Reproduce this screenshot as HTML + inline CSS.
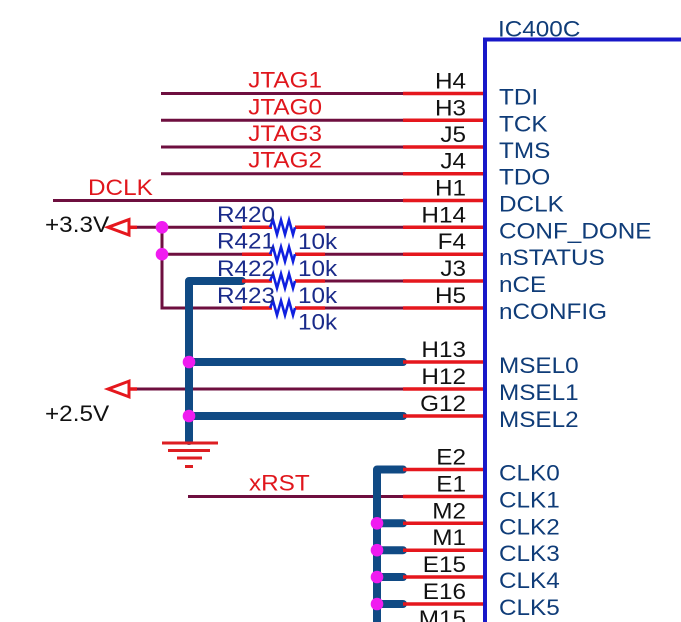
<!DOCTYPE html>
<html><head><meta charset="utf-8"><style>
html,body{margin:0;padding:0;background:#fff}
svg{display:block}
text{font-family:"Liberation Sans",Arial,sans-serif;font-size:22.5px}
.pn{fill:#0f3c78}
.num{fill:#111}
.red{fill:#e0161c}
.rl{fill:#1a2b8a}
</style></head><body>
<svg width="681" height="622" viewBox="0 0 681 622" xmlns="http://www.w3.org/2000/svg">
<!-- maroon wires -->
<g stroke="#6e0f3f" stroke-width="3" fill="none">
<line x1="161" y1="93.5" x2="403" y2="93.5"/>
<line x1="161" y1="120.3" x2="403" y2="120.3"/>
<line x1="161" y1="147" x2="403" y2="147"/>
<line x1="161" y1="173.7" x2="403" y2="173.7"/>
<line x1="53" y1="200.5" x2="403" y2="200.5"/>
<line x1="137" y1="227.3" x2="242" y2="227.3"/>
<line x1="325" y1="227.3" x2="403" y2="227.3"/>
<line x1="162" y1="254.2" x2="242" y2="254.2"/>
<line x1="325" y1="254.2" x2="403" y2="254.2"/>
<line x1="325" y1="281" x2="403" y2="281"/>
<path d="M162,227.3 V308 H242"/>
<line x1="325" y1="308" x2="403" y2="308"/>
<line x1="137" y1="389" x2="403" y2="389"/>
<line x1="188" y1="496.5" x2="403" y2="496.5"/>
</g>
<!-- navy buses -->
<g stroke="#104a84" stroke-width="8" fill="none" stroke-linecap="round" stroke-linejoin="round">
<path d="M189,441 V281 H242"/>
<line x1="189" y1="362" x2="403" y2="362"/>
<line x1="189" y1="416" x2="403" y2="416"/>
<path d="M377,640 V469.5 H403"/>
<line x1="377" y1="523.3" x2="403" y2="523.3"/>
<line x1="377" y1="550.2" x2="403" y2="550.2"/>
<line x1="377" y1="577" x2="403" y2="577"/>
<line x1="377" y1="604" x2="403" y2="604"/>
</g>
<!-- red pin lines -->
<g stroke="#e5171d" stroke-width="3.5" fill="none">
<line x1="403" y1="93.5" x2="485" y2="93.5"/>
<line x1="403" y1="120.3" x2="485" y2="120.3"/>
<line x1="403" y1="147" x2="485" y2="147"/>
<line x1="403" y1="173.7" x2="485" y2="173.7"/>
<line x1="403" y1="200.5" x2="485" y2="200.5"/>
<line x1="403" y1="227.3" x2="485" y2="227.3"/>
<line x1="403" y1="254.2" x2="485" y2="254.2"/>
<line x1="403" y1="281" x2="485" y2="281"/>
<line x1="403" y1="308" x2="485" y2="308"/>
<line x1="403" y1="362" x2="485" y2="362"/>
<line x1="403" y1="389" x2="485" y2="389"/>
<line x1="403" y1="416" x2="485" y2="416"/>
<line x1="403" y1="469.5" x2="485" y2="469.5"/>
<line x1="403" y1="496.5" x2="485" y2="496.5"/>
<line x1="403" y1="523.3" x2="485" y2="523.3"/>
<line x1="403" y1="550.2" x2="485" y2="550.2"/>
<line x1="403" y1="577" x2="485" y2="577"/>
<line x1="403" y1="604" x2="485" y2="604"/>
<!-- resistor leads -->
<line x1="242" y1="227.3" x2="272" y2="227.3"/><line x1="295" y1="227.3" x2="325" y2="227.3"/>
<line x1="242" y1="254.2" x2="272" y2="254.2"/><line x1="295" y1="254.2" x2="325" y2="254.2"/>
<line x1="242" y1="281" x2="272" y2="281"/><line x1="295" y1="281" x2="325" y2="281"/>
<line x1="242" y1="308" x2="272" y2="308"/><line x1="295" y1="308" x2="325" y2="308"/>
<!-- power arrows -->
<line x1="129" y1="227.3" x2="137" y2="227.3"/>
<line x1="129" y1="389" x2="137" y2="389"/>
</g>
<g stroke="#e5171d" stroke-width="3" fill="none" stroke-linejoin="miter">
<polygon points="108,227.3 129,219.5 129,235"/>
<polygon points="108,389 129,381.2 129,396.8"/>
</g>
<!-- ground -->
<g stroke="#dd1e22" stroke-width="3">
<line x1="162" y1="443" x2="218" y2="443"/>
<line x1="168" y1="450.5" x2="210" y2="450.5"/>
<line x1="177" y1="458" x2="202" y2="458"/>
<line x1="185" y1="466.5" x2="193" y2="466.5"/>
</g>
<!-- resistor zigzags -->
<g stroke="#1020e0" stroke-width="2.6" fill="none" stroke-linejoin="miter">
<path d="M270,227.3 L273,220 L277,234.5 L281,220 L285,234.5 L289,220 L293,234.5 L295,227.3"/>
<path d="M270,254.2 L273,247 L277,261.5 L281,247 L285,261.5 L289,247 L293,261.5 L295,254.2"/>
<path d="M270,281 L273,273.8 L277,288.2 L281,273.8 L285,288.2 L289,273.8 L293,288.2 L295,281"/>
<path d="M270,308 L273,300.8 L277,315.2 L281,300.8 L285,315.2 L289,300.8 L293,315.2 L295,308"/>
</g>
<!-- IC border -->
<path d="M485,630 V39.5 H690" stroke="#1818c8" stroke-width="4" fill="none"/>
<!-- junctions -->
<g fill="#f01cf0">
<circle cx="162" cy="227.3" r="6.3"/>
<circle cx="162" cy="254.2" r="6.3"/>
<circle cx="189" cy="362" r="6.3"/>
<circle cx="189" cy="416" r="6.3"/>
<circle cx="377" cy="523.3" r="6.3"/>
<circle cx="377" cy="550.2" r="6.3"/>
<circle cx="377" cy="577" r="6.3"/>
<circle cx="377" cy="604" r="6.3"/>
</g>
<!-- IC title -->
<text class="pn" transform="translate(498,36.5) scale(1.08,1)">IC400C</text>
<!-- pin names -->
<g class="pn">
<text transform="translate(499,104.5) scale(1.08,1)">TDI</text>
<text transform="translate(499,131.3) scale(1.08,1)">TCK</text>
<text transform="translate(499,158) scale(1.08,1)">TMS</text>
<text transform="translate(499,184.7) scale(1.08,1)">TDO</text>
<text transform="translate(499,211.5) scale(1.08,1)">DCLK</text>
<text transform="translate(499,238.3) scale(1.08,1)">CONF_DONE</text>
<text transform="translate(499,265.2) scale(1.08,1)">nSTATUS</text>
<text transform="translate(499,292) scale(1.08,1)">nCE</text>
<text transform="translate(499,319) scale(1.08,1)">nCONFIG</text>
<text transform="translate(499,373) scale(1.08,1)">MSEL0</text>
<text transform="translate(499,400) scale(1.08,1)">MSEL1</text>
<text transform="translate(499,427) scale(1.08,1)">MSEL2</text>
<text transform="translate(499,480.5) scale(1.08,1)">CLK0</text>
<text transform="translate(499,507.5) scale(1.08,1)">CLK1</text>
<text transform="translate(499,534.3) scale(1.08,1)">CLK2</text>
<text transform="translate(499,561.2) scale(1.08,1)">CLK3</text>
<text transform="translate(499,588) scale(1.08,1)">CLK4</text>
<text transform="translate(499,615) scale(1.08,1)">CLK5</text>
</g>
<!-- pin numbers -->
<g class="num" text-anchor="end">
<text transform="translate(466,88.5) scale(1.08,1)">H4</text>
<text transform="translate(466,115.3) scale(1.08,1)">H3</text>
<text transform="translate(466,142) scale(1.08,1)">J5</text>
<text transform="translate(466,168.7) scale(1.08,1)">J4</text>
<text transform="translate(466,195.5) scale(1.08,1)">H1</text>
<text transform="translate(466,222.3) scale(1.08,1)">H14</text>
<text transform="translate(466,249.2) scale(1.08,1)">F4</text>
<text transform="translate(466,276) scale(1.08,1)">J3</text>
<text transform="translate(466,303) scale(1.08,1)">H5</text>
<text transform="translate(466,357) scale(1.08,1)">H13</text>
<text transform="translate(466,384) scale(1.08,1)">H12</text>
<text transform="translate(466,411) scale(1.08,1)">G12</text>
<text transform="translate(466,464.5) scale(1.08,1)">E2</text>
<text transform="translate(466,491.5) scale(1.08,1)">E1</text>
<text transform="translate(466,518.3) scale(1.08,1)">M2</text>
<text transform="translate(466,545.2) scale(1.08,1)">M1</text>
<text transform="translate(466,572) scale(1.08,1)">E15</text>
<text transform="translate(466,599) scale(1.08,1)">E16</text>
<text transform="translate(466,626) scale(1.08,1)">M15</text>
</g>
<!-- net labels -->
<g class="red">
<text text-anchor="end" transform="translate(322,87.5) scale(1.08,1)">JTAG1</text>
<text text-anchor="end" transform="translate(322,114.3) scale(1.08,1)">JTAG0</text>
<text text-anchor="end" transform="translate(322,141) scale(1.08,1)">JTAG3</text>
<text text-anchor="end" transform="translate(322,167.7) scale(1.08,1)">JTAG2</text>
<text transform="translate(88,195) scale(1.08,1)">DCLK</text>
<text transform="translate(249,490.5) scale(1.08,1)">xRST</text>
</g>
<!-- power labels -->
<text class="num" transform="translate(45,232) scale(1.08,1)">+3.3V</text>
<text class="num" transform="translate(45,421) scale(1.08,1)">+2.5V</text>
<!-- resistor labels -->
<g class="rl">
<text transform="translate(217,222) scale(1.08,1)">R420</text>
<text transform="translate(217,248.5) scale(1.08,1)">R421</text>
<text transform="translate(217,276) scale(1.08,1)">R422</text>
<text transform="translate(217,303) scale(1.08,1)">R423</text>
<text transform="translate(298,249) scale(1.08,1)">10k</text>
<text transform="translate(298,276) scale(1.08,1)">10k</text>
<text transform="translate(298,303) scale(1.08,1)">10k</text>
<text transform="translate(298,329.5) scale(1.08,1)">10k</text>
</g>
</svg>
</body></html>
